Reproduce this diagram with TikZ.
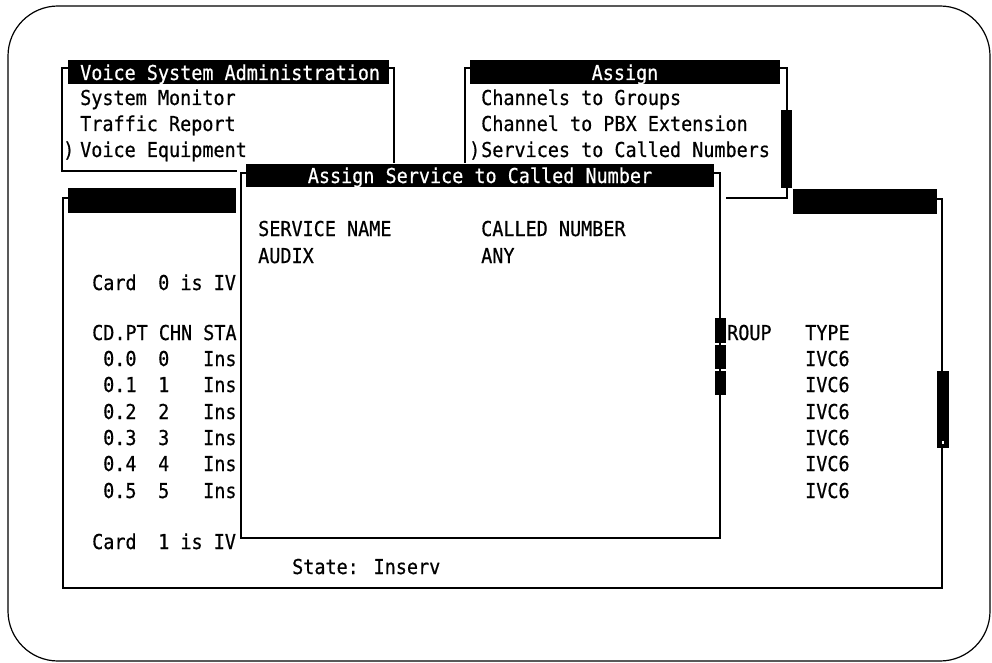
\documentclass[tikz,border=0pt]{standalone}
\usepackage{fontspec}
\newfontfamily\term[FakeStretch=0.9,FakeBold=0.6]{DejaVu Sans Mono}
\begin{document}
\begin{tikzpicture}[x=1pt,y=-1pt,
  frame/.style={line width=1.6pt},
  outline/.style={line width=1.2pt, rounded corners=50pt},
  txt/.style={anchor=base west, inner sep=0pt, font={\fontsize{20.5}{24}\selectfont\term}},
  ttl/.style={anchor=base, inner sep=0pt, text=white, font={\fontsize{20.5}{24}\selectfont\term}}]
\useasboundingbox (0,0) rectangle (992,663);

% rounded page outline
\draw[outline] (8,6) rectangle (990,661);

% ---- Voice equipment window (back) ----
\draw[frame] (68,198) -- (63,198) -- (63,588) -- (942,588) -- (942,199) -- (937,199);
\fill (68,188) rectangle (236,213);
\fill (793,189) rectangle (937,214);
\fill (937,371) rectangle (949,448);
\fill[white] (941.8,441) rectangle (944.2,444);
\node[txt] (card0) at (92,290) {Card};
\node[txt] (card0b) at (158,290) {0 is IV};
\node[txt] (hdr) at (92,340) {CD.PT CHN STA};
\node[txt] (hgrp) at (727,340) {ROUP};
\node[txt] (htype) at (805,340) {TYPE};
\foreach \i/\yy in {0/366,1/392,2/419,3/445,4/471,5/498}{
  \node[txt] (pt\i) at (103,\yy) {0.\i};
  \node[txt] (ch\i) at (158,\yy) {\i};
  \node[txt] (st\i) at (203,\yy) {Ins};
  \node[txt] (ty\i) at (805,\yy) {IVC6};
}
\node[txt] (card1) at (92,549) {Card};
\node[txt] (card1b) at (158,549) {1 is IV};
\node[txt] (state) at (292,574) {State: Inserv};

% ---- Voice System Administration menu ----
\draw[frame] (68,68) -- (62,68) -- (62,171) -- (237,171);
\draw[frame] (389,68) -- (394,68) -- (394,163);
\fill (68,60) rectangle (389,84);
\node[txt, text=white] (vsa) at (80,80) {Voice System Administration};
\node[txt] (m1) at (80,105) {System Monitor};
\node[txt] (m2) at (80,131) {Traffic Report};
\node[txt] (m3mark) at (63,157) {)};
\node[txt] (m3) at (80,157) {Voice Equipment};

% ---- Assign menu ----
\draw[frame] (470,68) -- (465,68) -- (465,163);
\draw[frame] (780,68) -- (787,68) -- (787,198) -- (726,198);
\fill (470,60) rectangle (780,84);
\fill (781,110) rectangle (792,188);
\node[ttl] (asg) at (625,80) {Assign};
\node[txt] (a1) at (481,105) {Channels to Groups};
\node[txt] (a2) at (481,131) {Channel to PBX Extension};
\node[txt] (a3mark) at (469,157) {)};
\node[txt] (a3) at (481,157) {Services to Called Numbers};

% ---- Assign Service to Called Number form (front) ----
\draw[frame] (246,173) -- (241,173) -- (241,538) -- (720,538) -- (720,173) -- (714,173);
\fill (246,164) rectangle (714,187);
\node[ttl] (form) at (480,183) {Assign Service to Called Number};
\node[txt] (svc) at (258,236) {SERVICE NAME};
\node[txt] (cnum) at (481,236) {CALLED NUMBER};
\node[txt] (svc1) at (258,263) {AUDIX};
\node[txt] (cnum1) at (481,263) {ANY};
\fill (715,318) rectangle (726,343);
\fill (715,345) rectangle (726,369);
\fill (715,371) rectangle (726,395);
\end{tikzpicture}
\end{document}
